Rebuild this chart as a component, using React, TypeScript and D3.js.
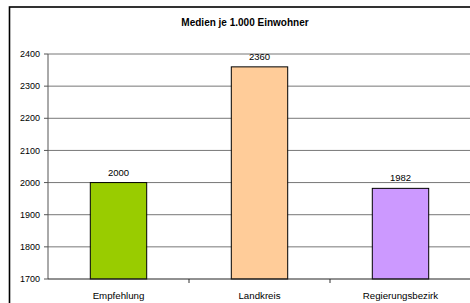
import { useMemo } from "react";
import * as d3 from "d3";

const categories = ["Empfehlung", "Landkreis", "Regierungsbezirk"];
const values = [2000, 2360, 1982];
const colors = ["#99CC00", "#FFCC99", "#CC99FF"];
const yTicks = [1700, 1800, 1900, 2000, 2100, 2200, 2300, 2400];
const title = "Medien je 1.000 Einwohner";

const W = 470;
const H = 303;
const PLOT = { left: 48, right: 471, top: 54, bottom: 279 };

export default function App() {
  const x = useMemo(
    () =>
      d3
        .scaleBand<string>()
        .domain(categories)
        .range([PLOT.left, PLOT.right])
        .paddingInner(0.6)
        .paddingOuter(0.3),
    []
  );
  const band = d3.scaleBand<string>().domain(categories).range([PLOT.left, PLOT.right]);
  const y = d3.scaleLinear().domain([1700, 2400]).range([PLOT.bottom, PLOT.top]);

  const font = "'Liberation Sans', Arial, sans-serif";

  return (
    <svg
      width={W}
      height={H}
      style={{ position: "absolute", left: 0, top: 0, background: "white" }}
      fontFamily={font}
    >
      <rect x={0} y={0} width={W} height={H} fill="white" />
      <rect x={9.5} y={7} width={W + 20} height={H + 20} fill="none" stroke="#000" strokeWidth={1.6} />
      <text x={245} y={25.5} textAnchor="middle" fontSize={10} fontWeight="bold" fill="#000">
        {title}
      </text>

      {yTicks.map((t) => (
        <g key={t}>
          {t > 1700 && (
            <line x1={PLOT.left} x2={PLOT.right} y1={y(t)} y2={y(t)} stroke="#777" strokeWidth={1} />
          )}
          <line x1={PLOT.left - 4} x2={PLOT.left} y1={y(t)} y2={y(t)} stroke="#555" />
          <text x={40} y={y(t)} dy="0.35em" textAnchor="end" fontSize={9} fill="#000">
            {t}
          </text>
        </g>
      ))}

      {categories.map((c, i) => (
        <g key={c}>
          <rect
            x={x(c)}
            y={y(values[i])}
            width={x.bandwidth()}
            height={y(1700) - y(values[i])}
            fill={colors[i]}
            stroke="#000"
            strokeWidth={1}
          />
          <text
            x={(x(c) ?? 0) + x.bandwidth() / 2}
            y={y(values[i]) - 7}
            textAnchor="middle"
            fontSize={9.5}
            fill="#000"
          >
            {values[i]}
          </text>
          <text
            x={(band(c) ?? 0) + band.bandwidth() / 2}
            y={298.5}
            textAnchor="middle"
            fontSize={9.7}
            fill="#000"
          >
            {c}
          </text>
          {i > 0 && (
            <line
              x1={band(c)}
              x2={band(c)}
              y1={PLOT.bottom}
              y2={PLOT.bottom + 4}
              stroke="#333"
            />
          )}
        </g>
      ))}

      <line x1={PLOT.left} x2={PLOT.left} y1={PLOT.top} y2={PLOT.bottom} stroke="#555" strokeWidth={1} />
      <line x1={PLOT.left} x2={PLOT.right} y1={PLOT.bottom} y2={PLOT.bottom} stroke="#222" strokeWidth={1} />
    </svg>
  );
}
